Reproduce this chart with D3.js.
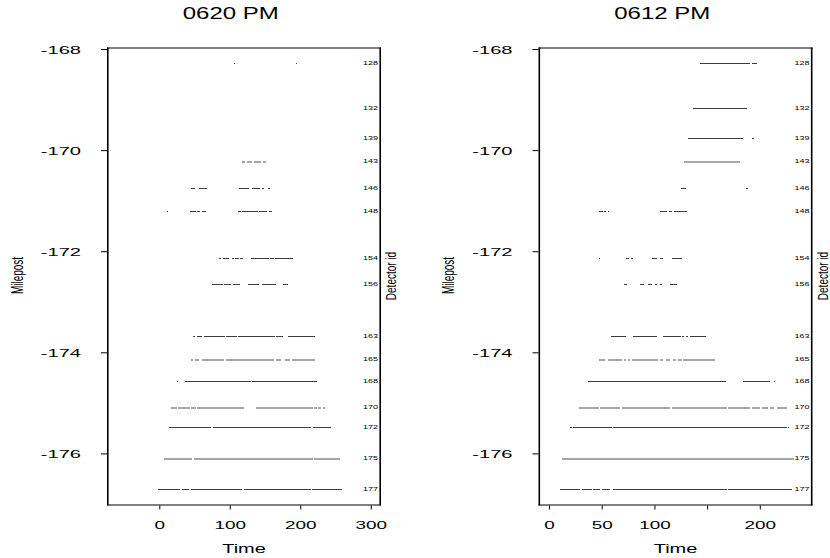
<!DOCTYPE html>
<html>
<head>
<meta charset="utf-8">
<script src="https://cdnjs.cloudflare.com/ajax/libs/d3/7.8.5/d3.min.js"></script>
<style>
  body { margin: 0; background: #fff; }
  svg text { font-family: "Liberation Sans", Arial, Helvetica, sans-serif; fill: #000; }
</style>
</head>
<body>
<svg id="chart" width="830" height="558"></svg>
<script>
/*
** Data
*/
var detectorIds = [128, 132, 139, 143, 146, 148, 154, 156, 163, 165, 168, 170, 172, 175, 177]
  , mileposts = [-168.29, -169.18, -169.78, -170.22, -170.75, -171.22, -172.15, -172.65,
                 -173.69, -174.15, -174.57, -175.10, -175.49, -176.10, -176.71]
  , panelTitles = ["0620 PM", "0612 PM"]
  , timeTicks0620 = [0, 100, 200, 300]
  , timeTicks0612 = [0, 50, 100, 150, 200]
  , milepostTicks = [-176, -174, -172, -170, -168]
  // [start, end] times with data, one list per detector (same order as detectorIds)
  , segments0620 = [
        [[106, 108], [194, 196]]
      , []
      , []
      , [[118, 121], [124, 131], [135, 144], [147, 152]]
      , [[45, 50], [56, 67], [113, 127], [131, 143], [146, 148], [154, 157]]
      , [[11, 13], [44, 52], [54, 58], [60, 66], [111, 116], [118, 140], [142, 153], [155, 160]]
      , [[84, 87], [91, 99], [103, 106], [108, 113], [115, 119], [130, 155], [157, 162], [164, 190]]
      , [[75, 90], [92, 102], [105, 115], [126, 142], [146, 166], [175, 182]]
      , [[48, 51], [53, 61], [63, 93], [95, 110], [111, 164], [166, 175], [182, 221]]
      , [[44.5, 48], [51, 57], [60, 92], [94, 162], [166, 172], [178, 186], [188, 221]]
      , [[25, 27], [36, 130], [131, 223]]
      , [[16, 25], [26.5, 43.5], [45.5, 52], [54, 120], [137, 218], [220, 223], [225.5, 229], [232, 235.5]]
      , [[14, 74], [76.5, 214.5], [217.5, 243]]
      , [[7, 47], [49, 217.5], [219.5, 257]]
      , [[-1.5, 29], [32, 42.5], [44.5, 118], [120, 215], [217, 258.5]]
    ]
  , segments0612 = [
        [[143, 190.5], [192.5, 197.5]]
      , [[136.5, 187.5]]
      , [[131.5, 184.5], [193, 194.5]]
      , [[128.5, 181.5]]
      , [[125.5, 129.5], [187, 188.5]]
      , [[47.5, 51], [52.5, 54.5], [55.5, 57], [105, 112], [114, 116.5], [118.5, 130.5]]
      , [[47.5, 48.5], [73.5, 75.5], [78, 79.5], [97.5, 102], [105.5, 108], [116.5, 126]]
      , [[71, 74], [86, 90], [94, 97.5], [100.5, 102], [105, 107], [115, 121]]
      , [[58.5, 73.5], [79.5, 102], [108, 125], [126.5, 128], [130, 132], [134, 148.5]]
      , [[47, 53], [55.5, 69], [71, 73], [75, 77], [79, 103], [105.5, 108.5], [111, 115],
         [117.5, 120.5], [122.5, 126], [127.5, 157.5]]
      , [[36.5, 167.5], [184.5, 209.5], [213, 214.5]]
      , [[28.5, 47], [48.5, 67.5], [69, 115], [117, 168.5], [170, 190.5], [192.5, 200],
         [202, 208], [209.5, 213], [216, 225.5]]
      , [[19.5, 21.5], [23, 59.5], [61, 225.5], [227, 228]]
      , [[12, 232]]
      , [[10.5, 29.5], [31, 40.5], [42, 48.5], [50, 58], [61, 168.5], [170, 230.5]]
    ]
;

function StripPlot() {
  /*
  ** Private Variables
  */
  var title
    , segments
    , xDomain
    , xTicks
    , xHidden = []
    , yDomain = [-177.03, -167.97]
    , width = 274
    , height = 458
    , x = d3.scaleLinear()
    , y = d3.scaleLinear()
    , greyIds = [143, 165, 170, 175]
  ;

  /*
  ** Main Function Object
  */
  function my(g) {
      x.domain(xDomain).range([0, width]);
      y.domain(yDomain).range([height, 0]);

      // detector strips
      var rows = g.selectAll(".strip")
          .data(detectorIds.map(function(id, i) {
              return { id: id, mp: mileposts[i], segs: segments[i] };
            }))
        .enter().append("g")
          .attr("class", "strip")
          .attr("transform", function(d) { return "translate(0," + Math.round(y(d.mp)) + ")"; })
      ;
      rows.selectAll("line")
          .data(function(d) { return d.segs.map(function(s) { return { s: s, grey: greyIds.indexOf(d.id) >= 0 }; }); })
        .enter().append("line")
          .attr("x1", function(d) { return x(d.s[0]); })
          .attr("x2", function(d) { return Math.max(x(d.s[1]), x(d.s[0]) + 1); })
          .attr("stroke", function(d) { return d.grey ? "#a6a6a6" : "#3c3c3c"; })
          .attr("stroke-width", function(d) { return d.grey ? 2 : 1; })
          .attr("shape-rendering", "crispEdges")
      ;
      rows.append("text")
          .attr("transform", "translate(" + (width - 3) + ",0) scale(1.8,1)")
          .attr("dy", "0.35em")
          .attr("text-anchor", "end")
          .attr("font-size", 5)
          .attr("fill", "#444")
          .text(function(d) { return d.id; })
      ;

      // frame
      g.append("line").attr("x1", 0).attr("x2", width).attr("y1", 0.5).attr("y2", 0.5)
          .attr("stroke", "#000").attr("stroke-width", 1);
      g.append("line").attr("x1", 0).attr("x2", width).attr("y1", height - 0.5).attr("y2", height - 0.5)
          .attr("stroke", "#000").attr("stroke-width", 1);
      g.append("line").attr("x1", 0.8).attr("x2", 0.8).attr("y1", 0).attr("y2", height)
          .attr("stroke", "#000").attr("stroke-width", 1.6);
      g.append("line").attr("x1", width - 0.8).attr("x2", width - 0.8).attr("y1", 0).attr("y2", height)
          .attr("stroke", "#000").attr("stroke-width", 1.6);

      // axes
      g.append("g")
          .call(d3.axisLeft(y).tickValues(milepostTicks).tickSize(6).tickSizeOuter(0)
              .tickFormat(function(d) { return String(d); }))
          .call(axisRender, "translate(-26,0) scale(1.75,1)", 11.5)
        .selectAll(".tick text")
          .attr("dy", "0.35em")
          .attr("text-anchor", "end")
      ;
      g.append("g")
          .attr("transform", "translate(0," + height + ")")
          .call(d3.axisBottom(x).tickValues(xTicks).tickSize(4).tickSizeOuter(0)
              .tickFormat(function(d) { return xHidden.indexOf(d) >= 0 ? "" : String(d); }))
          .call(axisRender, "translate(0,23) scale(1.8,1)", 10.5)
        .selectAll(".tick text")
          .attr("dy", null)
          .attr("text-anchor", "middle")
      ;

      // labels
      stretchedText(g, title, 123.7, -29, 1.5, 16, 0);
      stretchedText(g, "Time", width / 2, 505.5, 1.6, 12.5, 0);
      stretchedText(g, "Milepost", -90, 228, 1.65, 10, -90);
      stretchedText(g, "Detector id", width + 10.5, 228.5, 1.4, 10, -90);
  } // my() - Main function object

  /*
  ** Helper Functions
  */
  function axisRender(selection, textTransform, size) {
      selection
          .attr("font-family", null)
          .attr("font-size", null)
        .select(".domain").remove()
      ;
      selection.selectAll(".tick text")
          .attr("x", null)
          .attr("y", null)
          .attr("fill", "#000")
          .attr("font-size", size)
          .attr("transform", textTransform)
      ;
  } // axisRender()

  function stretchedText(g, str, tx, ty, sx, size, angle) {
      g.append("text")
          .attr("transform", "translate(" + tx + "," + ty + ") scale(" + sx + ",1) rotate(" + angle + ")")
          .attr("text-anchor", "middle")
          .attr("dy", angle ? "0.35em" : null)
          .attr("font-size", size)
          .text(str)
      ;
  } // stretchedText()

  /*
  ** API (Getter/Setter) Functions
  */
  my.title = function(_) {
      if(!arguments.length) return title;
      title = _;
      return my;
    } // my.title()
  ;
  my.segments = function(_) {
      if(!arguments.length) return segments;
      segments = _;
      return my;
    } // my.segments()
  ;
  my.xDomain = function(_) {
      if(!arguments.length) return xDomain;
      xDomain = _;
      return my;
    } // my.xDomain()
  ;
  my.xTicks = function(_) {
      if(!arguments.length) return xTicks;
      xTicks = _;
      return my;
    } // my.xTicks()
  ;
  my.xHidden = function(_) {
      if(!arguments.length) return xHidden;
      xHidden = _;
      return my;
    } // my.xHidden()
  ;

  return my;
} // StripPlot()

var svg = d3.select("#chart");

svg.append("g")
    .attr("transform", "translate(107,47.5)")
    .call(StripPlot()
        .title(panelTitles[0])
        .segments(segments0620)
        .xDomain([-74.2, 314.5])
        .xTicks(timeTicks0620))
;
svg.append("g")
    .attr("transform", "translate(538.5,47.5)")
    .call(StripPlot()
        .title(panelTitles[1])
        .segments(segments0612)
        .xDomain([-10, 250])
        .xTicks(timeTicks0612)
        .xHidden([150]))
;
</script>
</body>
</html>
